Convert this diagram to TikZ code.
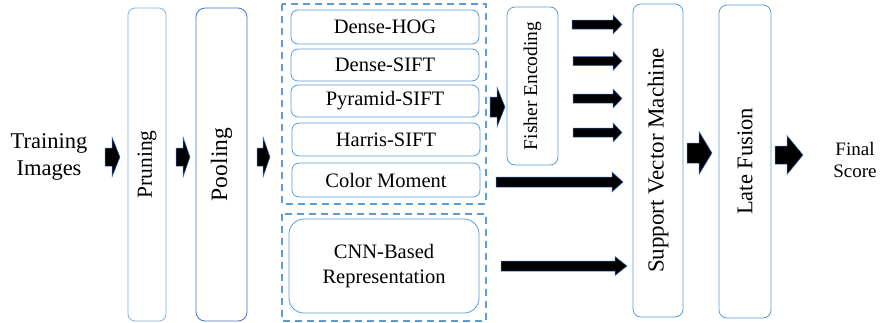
\documentclass[tikz,border=0pt]{standalone}
\usepackage{fontspec}
\setmainfont{Liberation Serif}
\definecolor{lightb}{RGB}{130,175,222}
\definecolor{midb}{RGB}{91,155,213}
\definecolor{darkb}{RGB}{68,114,196}
\definecolor{arrb}{RGB}{60,110,190}
\tikzset{
  box/.style={draw=midb, line width=0.8pt, rounded corners=7pt, inner sep=0pt},
  dashbox/.style={draw=midb, line width=1.3pt, dash pattern=on 7pt off 5pt},
  lbl/.style={inner sep=0pt, align=center},
}
% \barrow{name}{x1}{xh}{x2}{yc}{shaft half}{head half}
\newcommand{\barrow}[7]{%
  \coordinate (#1) at (#3,#5);
  \fill[black, draw=arrb, line width=0.5pt] (#2,#5-#6) -- (#3,#5-#6) -- (#3,#5-#7) -- (#4,#5) -- (#3,#5+#7) -- (#3,#5+#6) -- (#2,#5+#6) -- cycle;}
\begin{document}
\begin{tikzpicture}[x=1pt,y=-1pt]
\useasboundingbox (0,0) rectangle (881,322);
% left text
\node[lbl, font=\fontsize{22.5}{27}\selectfont] (train) at (49,157) {Training\\Images};
% pruning / pooling
\node[box, draw=lightb, rotate=90, minimum width=313pt, minimum height=38pt, font=\fontsize{21.5}{24}\selectfont] (prune) at (147,164.5) {Pruning};
\node[box, draw=darkb, rotate=90, minimum width=313pt, minimum height=51pt, rounded corners=9pt, font=\fontsize{23.5}{26}\selectfont] (pool) at (221.5,164.5) {Pooling};
% dashed groups
\draw[dashbox] (282,4) rectangle (486,204);
\draw[dashbox] (282,214) rectangle (486,321);
% feature boxes
\node[box, minimum width=188pt, minimum height=34pt, font=\fontsize{20.5}{24}\selectfont] (hog) at (385,27) {Dense-HOG};
\node[box, minimum width=188pt, minimum height=32pt, font=\fontsize{20.5}{24}\selectfont] (dsift) at (385,65) {Dense-SIFT};
\node[box, minimum width=188pt, minimum height=32pt, font=\fontsize{20.5}{24}\selectfont] (psift) at (385,101) {Pyramid-SIFT};
\node[box, minimum width=188pt, minimum height=33pt, font=\fontsize{20.5}{24}\selectfont] (hsift) at (386,139.5) {Harris-SIFT};
\node[box, minimum width=188pt, minimum height=34pt, font=\fontsize{20.5}{24}\selectfont] (cm) at (386,180) {Color Moment};
\node[box, rounded corners=15pt, minimum width=190pt, minimum height=94pt, align=center, font=\fontsize{20.5}{25}\selectfont] (cnn) at (384,266) {CNN-Based\\Representation};
% fisher
\node[box, rotate=90, minimum width=158pt, minimum height=51pt, rounded corners=8pt, font=\fontsize{19.5}{22}\selectfont] (fisher) at (532.5,86) {Fisher Encoding};
% svm / late fusion
\node[box, rotate=90, minimum width=313pt, minimum height=50pt, rounded corners=8pt, font=\fontsize{23}{26}\selectfont] (svm) at (658,160.5) {Support Vector Machine};
\node[box, rotate=90, minimum width=313pt, minimum height=52pt, rounded corners=8pt, font=\fontsize{22.5}{26}\selectfont] (late) at (745,161.5) {Late Fusion};
% final
\node[lbl, font=\fontsize{19}{22}\selectfont] (final) at (855,160) {Final\\Score};
% arrows
\barrow{a1}{105}{112}{120}{157}{9}{20}
\barrow{a2}{176}{183}{190}{157}{9}{20}
\barrow{a3}{257}{263}{270}{157}{9}{20}
\barrow{a4}{490}{497}{505}{107}{10}{20}
\barrow{a5}{572}{613}{622}{24.5}{4.5}{9.5}
\barrow{a6}{573}{613}{622}{61}{4.5}{9.5}
\barrow{a7}{573}{613}{622}{98.5}{4.5}{9.5}
\barrow{a8}{573}{613}{622}{132.5}{4.5}{9.5}
\barrow{a9}{496}{612}{623}{182}{5}{10}
\barrow{a10}{501}{615}{627}{266}{5}{9.5}
\barrow{a11}{687}{699}{712}{153}{10}{21.5}
\barrow{a12}{775}{787}{803}{155}{9}{19.5}
\end{tikzpicture}
\end{document}
